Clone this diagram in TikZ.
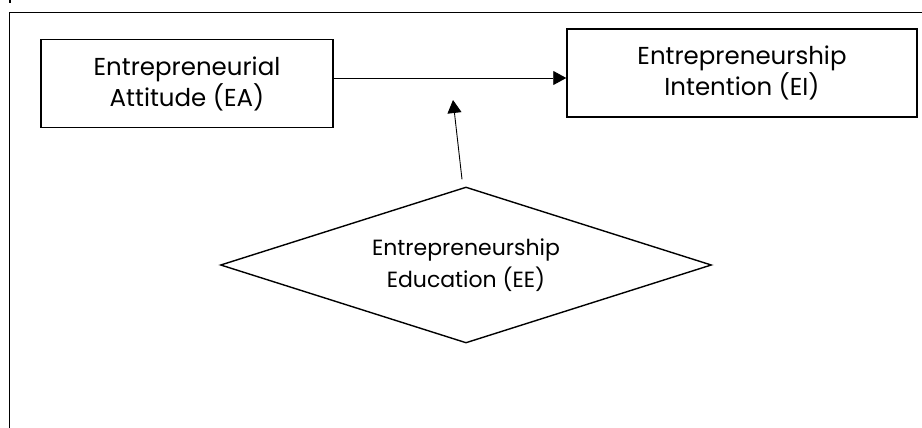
\documentclass[tikz,border=0pt]{standalone}
\usepackage{fontspec}
\setmainfont{Poppins}
\usetikzlibrary{arrows.meta,shapes.geometric}
\begin{document}
\begin{tikzpicture}[x=1pt,y=-1pt,
  framel/.style={line width=1.3pt},
  box/.style={draw,line width=1.5pt,inner sep=0pt,align=center,font=\fontsize{24.5}{31}\selectfont},
  dia/.style={draw,diamond,line width=1.4pt,inner sep=0pt,aspect=3.14,align=center,font=\fontsize{22}{32}\selectfont},
  arr/.style={line width=0.9pt,-{Triangle[length=13pt,width=14pt]}}]
\useasboundingbox (0,0) rectangle (922,428);
\draw[framel] (9.5,428) -- (9.5,12.5) -- (922,12.5);
\draw[framel] (10,0) -- (10,3);
\node[box,minimum width=292pt,minimum height=88pt] (ea) at (187,83.6) {Entrepreneurial\\Attitude (EA)};
\node[box,minimum width=350pt,minimum height=88pt] (ei) at (742,73) {Entrepreneurship\\Intention (EI)};
\node[dia,minimum width=491pt,minimum height=156pt] (ee) at (466,265) {Entrepreneurship\\Education (EE)};
\coordinate (arrowy) at (0,78);
\coordinate (mod) at (453,100);
\draw[arr] (ea.east |- arrowy) -- (ei.west |- arrowy);
\draw[arr] ([xshift=-4pt,yshift=7pt]ee.north) -- (mod);
\end{tikzpicture}
\end{document}
